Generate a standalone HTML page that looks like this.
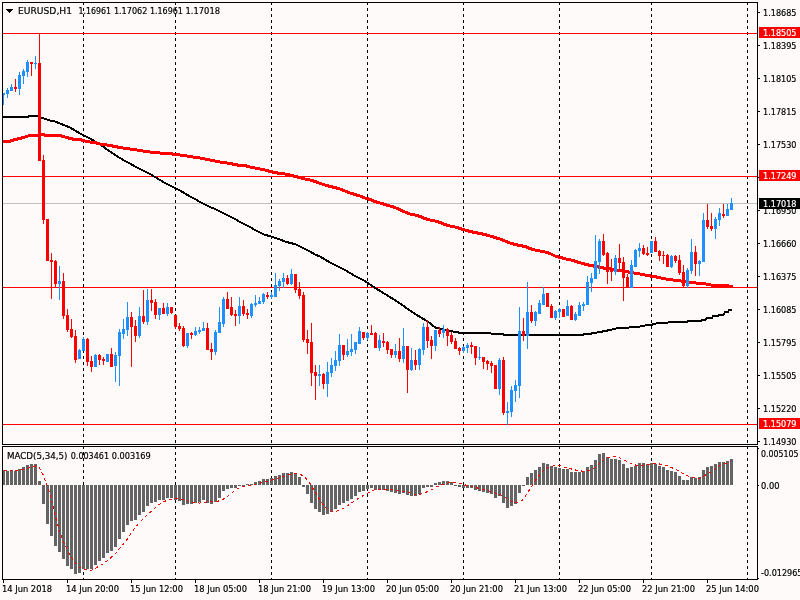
<!DOCTYPE html><html><head><meta charset="utf-8"><title>EURUSD,H1</title><style>html,body{margin:0;padding:0;background:#FFFAFA;width:800px;height:600px;overflow:hidden}svg{display:block}</style></head><body><svg width="800" height="600" viewBox="0 0 800 600" shape-rendering="crispEdges">
<rect x="0" y="0" width="800" height="600" fill="#FFFAFA"/>
<line x1="83.5" y1="2" x2="83.5" y2="444" stroke="#000" stroke-width="1" stroke-dasharray="3 3"/>
<line x1="83.5" y1="446" x2="83.5" y2="579" stroke="#000" stroke-width="1" stroke-dasharray="3 3"/>
<line x1="175.5" y1="2" x2="175.5" y2="444" stroke="#000" stroke-width="1" stroke-dasharray="3 3"/>
<line x1="175.5" y1="446" x2="175.5" y2="579" stroke="#000" stroke-width="1" stroke-dasharray="3 3"/>
<line x1="271.5" y1="2" x2="271.5" y2="444" stroke="#000" stroke-width="1" stroke-dasharray="3 3"/>
<line x1="271.5" y1="446" x2="271.5" y2="579" stroke="#000" stroke-width="1" stroke-dasharray="3 3"/>
<line x1="367.5" y1="2" x2="367.5" y2="444" stroke="#000" stroke-width="1" stroke-dasharray="3 3"/>
<line x1="367.5" y1="446" x2="367.5" y2="579" stroke="#000" stroke-width="1" stroke-dasharray="3 3"/>
<line x1="463.5" y1="2" x2="463.5" y2="444" stroke="#000" stroke-width="1" stroke-dasharray="3 3"/>
<line x1="463.5" y1="446" x2="463.5" y2="579" stroke="#000" stroke-width="1" stroke-dasharray="3 3"/>
<line x1="559.5" y1="2" x2="559.5" y2="444" stroke="#000" stroke-width="1" stroke-dasharray="3 3"/>
<line x1="559.5" y1="446" x2="559.5" y2="579" stroke="#000" stroke-width="1" stroke-dasharray="3 3"/>
<line x1="651.5" y1="2" x2="651.5" y2="444" stroke="#000" stroke-width="1" stroke-dasharray="3 3"/>
<line x1="651.5" y1="446" x2="651.5" y2="579" stroke="#000" stroke-width="1" stroke-dasharray="3 3"/>
<line x1="747.5" y1="2" x2="747.5" y2="444" stroke="#000" stroke-width="1" stroke-dasharray="3 3"/>
<line x1="747.5" y1="446" x2="747.5" y2="579" stroke="#000" stroke-width="1" stroke-dasharray="3 3"/>
<rect x="3" y="33" width="754" height="1" fill="#FF0000"/>
<rect x="3" y="176" width="754" height="1" fill="#FF0000"/>
<rect x="3" y="287" width="754" height="1" fill="#FF0000"/>
<rect x="3" y="424" width="754" height="1" fill="#FF0000"/>
<rect x="3" y="203" width="754" height="1" fill="#C0C0C0"/>
<polyline points="2.0,117.0 28.0,117.0 29.0,116.0 38.0,116.0 41.0,117.5 45.0,119.0 50.0,120.5 55.0,121.5 60.0,123.5 65.0,125.5 70.0,127.5 75.0,130.5 80.0,133.5 85.0,136.0 90.0,138.5 95.0,141.5 100.0,144.5 105.0,148.0 110.0,151.5 115.0,155.0 120.0,158.0 125.0,161.0 130.0,163.5 135.0,166.5 140.0,169.0 145.0,171.5 150.0,174.0 155.0,177.0 160.0,180.0 165.0,183.0 170.0,185.5 175.0,188.0 180.0,190.5 185.0,193.5 190.0,196.5 195.0,199.0 200.0,202.0 205.0,204.5 210.0,207.0 215.0,209.0 220.0,211.5 225.0,214.0 230.0,216.5 235.0,219.0 240.0,222.0 245.0,224.5 250.0,227.0 255.0,230.0 260.0,232.5 265.0,235.0 270.0,236.0 275.0,238.0 280.0,239.5 285.0,241.5 290.0,243.0 295.0,244.0 300.0,246.5 305.0,249.0 310.0,251.5 315.0,254.5 320.0,256.5 325.0,259.5 330.0,262.5 335.0,265.0 340.0,267.5 345.0,270.0 350.0,273.0 355.0,276.0 360.0,278.5 365.0,281.0 370.0,284.5 380.0,291.0 390.0,297.0 400.0,303.5 410.0,310.5 420.0,317.0 427.0,321.0 436.0,328.0 440.0,328.7 445.0,330.0 450.0,331.0 455.0,331.8 460.0,332.8 470.0,333.0 490.0,333.0 492.0,334.0 503.0,334.0 504.0,335.0 583.0,335.0 584.0,334.0 591.0,334.0 592.0,333.0 596.0,333.0 597.0,332.5 600.0,332.0 605.0,331.0 610.0,330.0 616.0,328.5 625.0,328.0 632.0,327.2 640.0,326.5 645.0,325.5 651.0,325.0 656.0,323.5 665.0,323.0 670.0,322.2 687.0,322.0 688.0,321.0 701.0,321.0 702.0,319.5 706.0,319.5 707.0,318.0 712.0,318.0 713.0,316.0 718.0,316.0 719.0,314.5 724.0,314.5 725.0,312.0 728.0,312.0 729.0,310.0 732.0,310.0" fill="none" stroke="#000" stroke-width="2" stroke-linejoin="round"/>
<polyline points="2.0,141.5 9.0,141.5 15.0,139.5 20.0,138.5 25.0,137.0 30.0,135.5 38.0,135.5 40.0,134.5 44.0,134.5 45.0,135.5 60.0,135.5 65.0,137.0 70.0,138.5 75.0,139.5 80.0,139.5 85.0,141.0 90.0,142.0 95.0,142.5 100.0,144.0 110.0,145.5 120.0,147.5 130.0,149.0 140.0,150.5 150.0,152.0 160.0,153.0 170.0,153.5 175.0,154.5 180.0,155.0 190.0,156.5 200.0,158.0 210.0,160.0 220.0,162.0 230.0,163.5 240.0,165.5 245.0,165.5 250.0,167.0 255.0,168.0 260.0,169.0 265.0,170.0 270.0,171.5 275.0,172.5 280.0,173.5 285.0,174.0 290.0,175.0 295.0,176.5 300.0,177.5 305.0,179.0 310.0,180.0 315.0,181.5 320.0,183.3 325.0,185.0 330.0,186.5 335.0,187.5 340.0,189.0 345.0,191.0 350.0,193.0 355.0,194.5 360.0,196.0 365.0,198.0 370.0,199.5 375.0,201.5 380.0,203.0 385.0,204.5 390.0,206.0 395.0,207.5 400.0,209.8 405.0,212.0 410.0,214.0 415.0,215.0 420.0,216.5 425.0,218.5 430.0,220.0 435.0,221.0 440.0,222.5 445.0,224.5 450.0,226.0 455.0,227.0 460.0,228.5 465.0,230.0 470.0,231.5 475.0,232.5 480.0,233.5 485.0,234.5 490.0,236.0 495.0,237.5 500.0,239.0 505.0,241.0 510.0,243.0 515.0,244.5 520.0,245.5 525.0,246.5 530.0,248.5 535.0,250.0 540.0,251.0 545.0,252.0 550.0,253.5 556.0,256.5 561.0,257.5 566.0,259.0 571.0,260.0 576.0,261.5 581.0,263.0 586.0,264.5 591.0,265.5 596.0,266.5 601.0,267.5 606.0,268.5 611.0,269.0 616.0,270.0 621.0,270.5 626.0,271.5 631.0,272.5 636.0,273.3 643.0,274.5 647.5,275.5 653.5,276.5 659.2,277.5 663.2,278.5 669.2,279.5 677.0,280.5 681.0,281.0 686.0,282.0 691.0,282.5 696.0,283.0 701.0,283.5 706.0,284.0 711.0,285.0 716.0,285.5 726.0,285.5 731.0,286.3 733.0,286.5" fill="none" stroke="#FF0000" stroke-width="3" stroke-linejoin="round"/>
<rect x="3" y="93" width="1" height="12" fill="#1E90FF"/>
<rect x="2" y="93" width="3" height="2" fill="#1E90FF"/>
<rect x="7" y="88" width="1" height="10" fill="#1E90FF"/>
<rect x="6" y="90" width="3" height="4" fill="#1E90FF"/>
<rect x="11" y="84" width="1" height="7" fill="#1E90FF"/>
<rect x="10" y="87" width="3" height="4" fill="#1E90FF"/>
<rect x="15" y="79" width="1" height="13" fill="#FF0000"/>
<rect x="14" y="87" width="3" height="2" fill="#FF0000"/>
<rect x="19" y="72" width="1" height="23" fill="#1E90FF"/>
<rect x="18" y="75" width="3" height="14" fill="#1E90FF"/>
<rect x="23" y="69" width="1" height="15" fill="#1E90FF"/>
<rect x="22" y="71" width="3" height="5" fill="#1E90FF"/>
<rect x="27" y="60" width="1" height="17" fill="#1E90FF"/>
<rect x="26" y="62" width="3" height="10" fill="#1E90FF"/>
<rect x="31" y="62" width="1" height="14" fill="#FF0000"/>
<rect x="30" y="62" width="3" height="2" fill="#FF0000"/>
<rect x="35" y="56" width="1" height="13" fill="#1E90FF"/>
<rect x="34" y="63" width="3" height="1" fill="#1E90FF"/>
<rect x="39" y="33" width="1" height="128" fill="#FF0000"/>
<rect x="38" y="63" width="3" height="98" fill="#FF0000"/>
<rect x="43" y="155" width="1" height="69" fill="#FF0000"/>
<rect x="42" y="160" width="3" height="60" fill="#FF0000"/>
<rect x="47" y="219" width="1" height="42" fill="#FF0000"/>
<rect x="46" y="219" width="3" height="42" fill="#FF0000"/>
<rect x="51" y="253" width="1" height="46" fill="#FF0000"/>
<rect x="50" y="260" width="3" height="2" fill="#FF0000"/>
<rect x="55" y="260" width="1" height="28" fill="#FF0000"/>
<rect x="54" y="261" width="3" height="23" fill="#FF0000"/>
<rect x="59" y="266" width="1" height="34" fill="#1E90FF"/>
<rect x="58" y="281" width="3" height="3" fill="#1E90FF"/>
<rect x="63" y="273" width="1" height="46" fill="#FF0000"/>
<rect x="62" y="281" width="3" height="35" fill="#FF0000"/>
<rect x="67" y="309" width="1" height="23" fill="#FF0000"/>
<rect x="66" y="315" width="3" height="15" fill="#FF0000"/>
<rect x="71" y="319" width="1" height="19" fill="#FF0000"/>
<rect x="70" y="329" width="3" height="8" fill="#FF0000"/>
<rect x="75" y="330" width="1" height="33" fill="#FF0000"/>
<rect x="74" y="336" width="3" height="24" fill="#FF0000"/>
<rect x="79" y="349" width="1" height="10" fill="#1E90FF"/>
<rect x="78" y="350" width="3" height="9" fill="#1E90FF"/>
<rect x="83" y="337" width="1" height="14" fill="#1E90FF"/>
<rect x="82" y="339" width="3" height="12" fill="#1E90FF"/>
<rect x="87" y="338" width="1" height="28" fill="#FF0000"/>
<rect x="86" y="339" width="3" height="23" fill="#FF0000"/>
<rect x="91" y="356" width="1" height="16" fill="#FF0000"/>
<rect x="90" y="361" width="3" height="6" fill="#FF0000"/>
<rect x="95" y="354" width="1" height="13" fill="#1E90FF"/>
<rect x="94" y="355" width="3" height="12" fill="#1E90FF"/>
<rect x="99" y="354" width="1" height="11" fill="#FF0000"/>
<rect x="98" y="355" width="3" height="5" fill="#FF0000"/>
<rect x="103" y="357" width="1" height="8" fill="#FF0000"/>
<rect x="102" y="359" width="3" height="2" fill="#FF0000"/>
<rect x="107" y="354" width="1" height="8" fill="#1E90FF"/>
<rect x="106" y="354" width="3" height="8" fill="#1E90FF"/>
<rect x="111" y="348" width="1" height="19" fill="#FF0000"/>
<rect x="110" y="354" width="3" height="13" fill="#FF0000"/>
<rect x="115" y="352" width="1" height="30" fill="#1E90FF"/>
<rect x="114" y="355" width="3" height="11" fill="#1E90FF"/>
<rect x="119" y="329" width="1" height="57" fill="#1E90FF"/>
<rect x="118" y="332" width="3" height="24" fill="#1E90FF"/>
<rect x="123" y="319" width="1" height="20" fill="#1E90FF"/>
<rect x="122" y="329" width="3" height="5" fill="#1E90FF"/>
<rect x="127" y="302" width="1" height="34" fill="#1E90FF"/>
<rect x="126" y="317" width="3" height="13" fill="#1E90FF"/>
<rect x="131" y="312" width="1" height="55" fill="#FF0000"/>
<rect x="130" y="317" width="3" height="10" fill="#FF0000"/>
<rect x="135" y="320" width="1" height="22" fill="#FF0000"/>
<rect x="134" y="326" width="3" height="10" fill="#FF0000"/>
<rect x="139" y="307" width="1" height="31" fill="#1E90FF"/>
<rect x="138" y="316" width="3" height="20" fill="#1E90FF"/>
<rect x="143" y="290" width="1" height="34" fill="#FF0000"/>
<rect x="142" y="316" width="3" height="6" fill="#FF0000"/>
<rect x="147" y="289" width="1" height="36" fill="#1E90FF"/>
<rect x="146" y="300" width="3" height="22" fill="#1E90FF"/>
<rect x="151" y="289" width="1" height="22" fill="#FF0000"/>
<rect x="150" y="300" width="3" height="3" fill="#FF0000"/>
<rect x="155" y="299" width="1" height="20" fill="#FF0000"/>
<rect x="154" y="302" width="3" height="13" fill="#FF0000"/>
<rect x="159" y="308" width="1" height="12" fill="#1E90FF"/>
<rect x="158" y="308" width="3" height="7" fill="#1E90FF"/>
<rect x="163" y="303" width="1" height="11" fill="#FF0000"/>
<rect x="162" y="308" width="3" height="6" fill="#FF0000"/>
<rect x="167" y="303" width="1" height="13" fill="#1E90FF"/>
<rect x="166" y="307" width="3" height="7" fill="#1E90FF"/>
<rect x="171" y="307" width="1" height="7" fill="#FF0000"/>
<rect x="170" y="307" width="3" height="6" fill="#FF0000"/>
<rect x="175" y="315" width="1" height="14" fill="#FF0000"/>
<rect x="174" y="315" width="3" height="12" fill="#FF0000"/>
<rect x="179" y="323" width="1" height="8" fill="#FF0000"/>
<rect x="178" y="326" width="3" height="3" fill="#FF0000"/>
<rect x="183" y="326" width="1" height="21" fill="#FF0000"/>
<rect x="182" y="328" width="3" height="18" fill="#FF0000"/>
<rect x="187" y="333" width="1" height="15" fill="#1E90FF"/>
<rect x="186" y="333" width="3" height="13" fill="#1E90FF"/>
<rect x="191" y="332" width="1" height="7" fill="#FF0000"/>
<rect x="190" y="333" width="3" height="2" fill="#FF0000"/>
<rect x="195" y="327" width="1" height="9" fill="#1E90FF"/>
<rect x="194" y="331" width="3" height="4" fill="#1E90FF"/>
<rect x="199" y="327" width="1" height="7" fill="#1E90FF"/>
<rect x="198" y="330" width="3" height="2" fill="#1E90FF"/>
<rect x="203" y="322" width="1" height="9" fill="#1E90FF"/>
<rect x="202" y="328" width="3" height="3" fill="#1E90FF"/>
<rect x="207" y="323" width="1" height="27" fill="#FF0000"/>
<rect x="206" y="328" width="3" height="22" fill="#FF0000"/>
<rect x="211" y="343" width="1" height="17" fill="#FF0000"/>
<rect x="210" y="349" width="3" height="3" fill="#FF0000"/>
<rect x="215" y="330" width="1" height="25" fill="#1E90FF"/>
<rect x="214" y="332" width="3" height="20" fill="#1E90FF"/>
<rect x="219" y="307" width="1" height="26" fill="#1E90FF"/>
<rect x="218" y="322" width="3" height="11" fill="#1E90FF"/>
<rect x="223" y="297" width="1" height="30" fill="#1E90FF"/>
<rect x="222" y="299" width="3" height="25" fill="#1E90FF"/>
<rect x="227" y="292" width="1" height="17" fill="#FF0000"/>
<rect x="226" y="299" width="3" height="10" fill="#FF0000"/>
<rect x="231" y="297" width="1" height="19" fill="#FF0000"/>
<rect x="230" y="307" width="3" height="8" fill="#FF0000"/>
<rect x="235" y="310" width="1" height="16" fill="#FF0000"/>
<rect x="234" y="314" width="3" height="2" fill="#FF0000"/>
<rect x="239" y="297" width="1" height="27" fill="#1E90FF"/>
<rect x="238" y="306" width="3" height="10" fill="#1E90FF"/>
<rect x="243" y="300" width="1" height="16" fill="#FF0000"/>
<rect x="242" y="306" width="3" height="8" fill="#FF0000"/>
<rect x="247" y="309" width="1" height="10" fill="#FF0000"/>
<rect x="246" y="313" width="3" height="2" fill="#FF0000"/>
<rect x="251" y="303" width="1" height="15" fill="#1E90FF"/>
<rect x="250" y="304" width="3" height="12" fill="#1E90FF"/>
<rect x="255" y="295" width="1" height="12" fill="#1E90FF"/>
<rect x="254" y="303" width="3" height="2" fill="#1E90FF"/>
<rect x="259" y="297" width="1" height="7" fill="#1E90FF"/>
<rect x="258" y="301" width="3" height="3" fill="#1E90FF"/>
<rect x="263" y="293" width="1" height="11" fill="#1E90FF"/>
<rect x="262" y="294" width="3" height="8" fill="#1E90FF"/>
<rect x="267" y="292" width="1" height="7" fill="#FF0000"/>
<rect x="266" y="295" width="3" height="2" fill="#FF0000"/>
<rect x="271" y="292" width="1" height="7" fill="#1E90FF"/>
<rect x="270" y="295" width="3" height="2" fill="#1E90FF"/>
<rect x="275" y="273" width="1" height="24" fill="#1E90FF"/>
<rect x="274" y="285" width="3" height="12" fill="#1E90FF"/>
<rect x="279" y="279" width="1" height="12" fill="#1E90FF"/>
<rect x="278" y="281" width="3" height="5" fill="#1E90FF"/>
<rect x="283" y="273" width="1" height="15" fill="#1E90FF"/>
<rect x="282" y="278" width="3" height="4" fill="#1E90FF"/>
<rect x="287" y="275" width="1" height="10" fill="#FF0000"/>
<rect x="286" y="278" width="3" height="6" fill="#FF0000"/>
<rect x="291" y="269" width="1" height="16" fill="#1E90FF"/>
<rect x="290" y="274" width="3" height="10" fill="#1E90FF"/>
<rect x="295" y="274" width="1" height="19" fill="#FF0000"/>
<rect x="294" y="274" width="3" height="16" fill="#FF0000"/>
<rect x="299" y="282" width="1" height="17" fill="#FF0000"/>
<rect x="298" y="289" width="3" height="7" fill="#FF0000"/>
<rect x="303" y="292" width="1" height="50" fill="#FF0000"/>
<rect x="302" y="295" width="3" height="45" fill="#FF0000"/>
<rect x="307" y="330" width="1" height="24" fill="#FF0000"/>
<rect x="306" y="339" width="3" height="4" fill="#FF0000"/>
<rect x="311" y="323" width="1" height="63" fill="#FF0000"/>
<rect x="310" y="342" width="3" height="31" fill="#FF0000"/>
<rect x="315" y="365" width="1" height="35" fill="#FF0000"/>
<rect x="314" y="372" width="3" height="4" fill="#FF0000"/>
<rect x="319" y="365" width="1" height="21" fill="#1E90FF"/>
<rect x="318" y="374" width="3" height="2" fill="#1E90FF"/>
<rect x="323" y="373" width="1" height="16" fill="#FF0000"/>
<rect x="322" y="374" width="3" height="10" fill="#FF0000"/>
<rect x="327" y="362" width="1" height="35" fill="#1E90FF"/>
<rect x="326" y="372" width="3" height="12" fill="#1E90FF"/>
<rect x="331" y="358" width="1" height="19" fill="#1E90FF"/>
<rect x="330" y="365" width="3" height="8" fill="#1E90FF"/>
<rect x="335" y="351" width="1" height="20" fill="#1E90FF"/>
<rect x="334" y="360" width="3" height="6" fill="#1E90FF"/>
<rect x="339" y="334" width="1" height="32" fill="#1E90FF"/>
<rect x="338" y="345" width="3" height="16" fill="#1E90FF"/>
<rect x="343" y="345" width="1" height="15" fill="#FF0000"/>
<rect x="342" y="345" width="3" height="10" fill="#FF0000"/>
<rect x="347" y="339" width="1" height="18" fill="#1E90FF"/>
<rect x="346" y="351" width="3" height="4" fill="#1E90FF"/>
<rect x="351" y="334" width="1" height="22" fill="#1E90FF"/>
<rect x="350" y="349" width="3" height="3" fill="#1E90FF"/>
<rect x="355" y="342" width="1" height="12" fill="#1E90FF"/>
<rect x="354" y="342" width="3" height="8" fill="#1E90FF"/>
<rect x="359" y="327" width="1" height="17" fill="#1E90FF"/>
<rect x="358" y="331" width="3" height="13" fill="#1E90FF"/>
<rect x="363" y="332" width="1" height="8" fill="#FF0000"/>
<rect x="362" y="332" width="3" height="6" fill="#FF0000"/>
<rect x="367" y="332" width="1" height="8" fill="#1E90FF"/>
<rect x="366" y="333" width="3" height="5" fill="#1E90FF"/>
<rect x="371" y="325" width="1" height="10" fill="#FF0000"/>
<rect x="370" y="333" width="3" height="2" fill="#FF0000"/>
<rect x="375" y="332" width="1" height="16" fill="#FF0000"/>
<rect x="374" y="333" width="3" height="15" fill="#FF0000"/>
<rect x="379" y="335" width="1" height="16" fill="#1E90FF"/>
<rect x="378" y="340" width="3" height="8" fill="#1E90FF"/>
<rect x="383" y="333" width="1" height="14" fill="#FF0000"/>
<rect x="382" y="341" width="3" height="2" fill="#FF0000"/>
<rect x="387" y="341" width="1" height="13" fill="#FF0000"/>
<rect x="386" y="342" width="3" height="8" fill="#FF0000"/>
<rect x="391" y="349" width="1" height="9" fill="#FF0000"/>
<rect x="390" y="349" width="3" height="6" fill="#FF0000"/>
<rect x="395" y="344" width="1" height="14" fill="#1E90FF"/>
<rect x="394" y="351" width="3" height="4" fill="#1E90FF"/>
<rect x="399" y="338" width="1" height="24" fill="#FF0000"/>
<rect x="398" y="351" width="3" height="8" fill="#FF0000"/>
<rect x="403" y="328" width="1" height="35" fill="#1E90FF"/>
<rect x="402" y="346" width="3" height="13" fill="#1E90FF"/>
<rect x="407" y="346" width="1" height="47" fill="#FF0000"/>
<rect x="406" y="346" width="3" height="24" fill="#FF0000"/>
<rect x="411" y="348" width="1" height="23" fill="#1E90FF"/>
<rect x="410" y="360" width="3" height="10" fill="#1E90FF"/>
<rect x="415" y="350" width="1" height="20" fill="#FF0000"/>
<rect x="414" y="360" width="3" height="5" fill="#FF0000"/>
<rect x="419" y="348" width="1" height="22" fill="#1E90FF"/>
<rect x="418" y="349" width="3" height="16" fill="#1E90FF"/>
<rect x="423" y="323" width="1" height="32" fill="#1E90FF"/>
<rect x="422" y="327" width="3" height="23" fill="#1E90FF"/>
<rect x="427" y="320" width="1" height="28" fill="#FF0000"/>
<rect x="426" y="327" width="3" height="14" fill="#FF0000"/>
<rect x="431" y="336" width="1" height="23" fill="#FF0000"/>
<rect x="430" y="340" width="3" height="6" fill="#FF0000"/>
<rect x="435" y="330" width="1" height="21" fill="#1E90FF"/>
<rect x="434" y="330" width="3" height="16" fill="#1E90FF"/>
<rect x="439" y="327" width="1" height="10" fill="#FF0000"/>
<rect x="438" y="330" width="3" height="4" fill="#FF0000"/>
<rect x="443" y="325" width="1" height="13" fill="#1E90FF"/>
<rect x="442" y="329" width="3" height="4" fill="#1E90FF"/>
<rect x="447" y="328" width="1" height="18" fill="#FF0000"/>
<rect x="446" y="329" width="3" height="7" fill="#FF0000"/>
<rect x="451" y="332" width="1" height="12" fill="#FF0000"/>
<rect x="450" y="335" width="3" height="7" fill="#FF0000"/>
<rect x="455" y="338" width="1" height="11" fill="#FF0000"/>
<rect x="454" y="341" width="3" height="8" fill="#FF0000"/>
<rect x="459" y="347" width="1" height="8" fill="#FF0000"/>
<rect x="458" y="348" width="3" height="3" fill="#FF0000"/>
<rect x="463" y="346" width="1" height="7" fill="#1E90FF"/>
<rect x="462" y="347" width="3" height="4" fill="#1E90FF"/>
<rect x="467" y="343" width="1" height="10" fill="#1E90FF"/>
<rect x="466" y="345" width="3" height="3" fill="#1E90FF"/>
<rect x="471" y="342" width="1" height="12" fill="#FF0000"/>
<rect x="470" y="345" width="3" height="2" fill="#FF0000"/>
<rect x="475" y="346" width="1" height="19" fill="#FF0000"/>
<rect x="474" y="346" width="3" height="12" fill="#FF0000"/>
<rect x="479" y="347" width="1" height="13" fill="#1E90FF"/>
<rect x="478" y="357" width="3" height="1" fill="#1E90FF"/>
<rect x="483" y="357" width="1" height="12" fill="#FF0000"/>
<rect x="482" y="357" width="3" height="5" fill="#FF0000"/>
<rect x="487" y="360" width="1" height="10" fill="#FF0000"/>
<rect x="486" y="361" width="3" height="3" fill="#FF0000"/>
<rect x="491" y="361" width="1" height="12" fill="#FF0000"/>
<rect x="490" y="363" width="3" height="3" fill="#FF0000"/>
<rect x="495" y="365" width="1" height="24" fill="#FF0000"/>
<rect x="494" y="365" width="3" height="24" fill="#FF0000"/>
<rect x="499" y="358" width="1" height="37" fill="#1E90FF"/>
<rect x="498" y="360" width="3" height="29" fill="#1E90FF"/>
<rect x="503" y="357" width="1" height="58" fill="#FF0000"/>
<rect x="502" y="360" width="3" height="53" fill="#FF0000"/>
<rect x="507" y="402" width="1" height="23" fill="#1E90FF"/>
<rect x="506" y="411" width="3" height="2" fill="#1E90FF"/>
<rect x="511" y="386" width="1" height="31" fill="#1E90FF"/>
<rect x="510" y="390" width="3" height="22" fill="#1E90FF"/>
<rect x="515" y="380" width="1" height="22" fill="#1E90FF"/>
<rect x="514" y="385" width="3" height="6" fill="#1E90FF"/>
<rect x="519" y="307" width="1" height="91" fill="#1E90FF"/>
<rect x="518" y="331" width="3" height="55" fill="#1E90FF"/>
<rect x="523" y="318" width="1" height="23" fill="#FF0000"/>
<rect x="522" y="331" width="3" height="5" fill="#FF0000"/>
<rect x="527" y="282" width="1" height="67" fill="#1E90FF"/>
<rect x="526" y="312" width="3" height="24" fill="#1E90FF"/>
<rect x="531" y="305" width="1" height="18" fill="#FF0000"/>
<rect x="530" y="312" width="3" height="9" fill="#FF0000"/>
<rect x="535" y="311" width="1" height="15" fill="#1E90FF"/>
<rect x="534" y="312" width="3" height="9" fill="#1E90FF"/>
<rect x="539" y="300" width="1" height="14" fill="#1E90FF"/>
<rect x="538" y="303" width="3" height="11" fill="#1E90FF"/>
<rect x="543" y="287" width="1" height="18" fill="#1E90FF"/>
<rect x="542" y="294" width="3" height="11" fill="#1E90FF"/>
<rect x="547" y="293" width="1" height="14" fill="#FF0000"/>
<rect x="546" y="293" width="3" height="14" fill="#FF0000"/>
<rect x="551" y="304" width="1" height="14" fill="#FF0000"/>
<rect x="550" y="306" width="3" height="12" fill="#FF0000"/>
<rect x="555" y="310" width="1" height="10" fill="#1E90FF"/>
<rect x="554" y="311" width="3" height="7" fill="#1E90FF"/>
<rect x="559" y="308" width="1" height="10" fill="#1E90FF"/>
<rect x="558" y="309" width="3" height="3" fill="#1E90FF"/>
<rect x="563" y="309" width="1" height="8" fill="#FF0000"/>
<rect x="562" y="309" width="3" height="8" fill="#FF0000"/>
<rect x="567" y="300" width="1" height="16" fill="#1E90FF"/>
<rect x="566" y="306" width="3" height="10" fill="#1E90FF"/>
<rect x="571" y="305" width="1" height="15" fill="#FF0000"/>
<rect x="570" y="306" width="3" height="14" fill="#FF0000"/>
<rect x="575" y="312" width="1" height="9" fill="#1E90FF"/>
<rect x="574" y="314" width="3" height="6" fill="#1E90FF"/>
<rect x="579" y="302" width="1" height="14" fill="#1E90FF"/>
<rect x="578" y="305" width="3" height="11" fill="#1E90FF"/>
<rect x="583" y="302" width="1" height="9" fill="#1E90FF"/>
<rect x="582" y="304" width="3" height="2" fill="#1E90FF"/>
<rect x="587" y="276" width="1" height="29" fill="#1E90FF"/>
<rect x="586" y="282" width="3" height="23" fill="#1E90FF"/>
<rect x="591" y="273" width="1" height="19" fill="#1E90FF"/>
<rect x="590" y="278" width="3" height="5" fill="#1E90FF"/>
<rect x="595" y="235" width="1" height="44" fill="#1E90FF"/>
<rect x="594" y="261" width="3" height="18" fill="#1E90FF"/>
<rect x="599" y="239" width="1" height="35" fill="#1E90FF"/>
<rect x="598" y="241" width="3" height="21" fill="#1E90FF"/>
<rect x="603" y="234" width="1" height="22" fill="#FF0000"/>
<rect x="602" y="241" width="3" height="14" fill="#FF0000"/>
<rect x="607" y="252" width="1" height="32" fill="#FF0000"/>
<rect x="606" y="253" width="3" height="19" fill="#FF0000"/>
<rect x="611" y="259" width="1" height="22" fill="#FF0000"/>
<rect x="610" y="270" width="3" height="2" fill="#FF0000"/>
<rect x="615" y="255" width="1" height="20" fill="#1E90FF"/>
<rect x="614" y="258" width="3" height="14" fill="#1E90FF"/>
<rect x="619" y="244" width="1" height="25" fill="#FF0000"/>
<rect x="618" y="258" width="3" height="5" fill="#FF0000"/>
<rect x="623" y="257" width="1" height="44" fill="#FF0000"/>
<rect x="622" y="262" width="3" height="16" fill="#FF0000"/>
<rect x="627" y="274" width="1" height="14" fill="#FF0000"/>
<rect x="626" y="277" width="3" height="11" fill="#FF0000"/>
<rect x="631" y="260" width="1" height="28" fill="#1E90FF"/>
<rect x="630" y="265" width="3" height="23" fill="#1E90FF"/>
<rect x="635" y="249" width="1" height="18" fill="#1E90FF"/>
<rect x="634" y="250" width="3" height="17" fill="#1E90FF"/>
<rect x="639" y="243" width="1" height="14" fill="#1E90FF"/>
<rect x="638" y="248" width="3" height="3" fill="#1E90FF"/>
<rect x="643" y="245" width="1" height="10" fill="#FF0000"/>
<rect x="642" y="248" width="3" height="6" fill="#FF0000"/>
<rect x="647" y="247" width="1" height="9" fill="#FF0000"/>
<rect x="646" y="253" width="3" height="2" fill="#FF0000"/>
<rect x="651" y="241" width="1" height="12" fill="#1E90FF"/>
<rect x="650" y="241" width="3" height="12" fill="#1E90FF"/>
<rect x="655" y="237" width="1" height="15" fill="#FF0000"/>
<rect x="654" y="241" width="3" height="11" fill="#FF0000"/>
<rect x="659" y="250" width="1" height="11" fill="#FF0000"/>
<rect x="658" y="251" width="3" height="5" fill="#FF0000"/>
<rect x="663" y="251" width="1" height="13" fill="#FF0000"/>
<rect x="662" y="255" width="3" height="1" fill="#FF0000"/>
<rect x="667" y="254" width="1" height="13" fill="#FF0000"/>
<rect x="666" y="255" width="3" height="12" fill="#FF0000"/>
<rect x="671" y="255" width="1" height="13" fill="#1E90FF"/>
<rect x="670" y="256" width="3" height="11" fill="#1E90FF"/>
<rect x="675" y="255" width="1" height="8" fill="#FF0000"/>
<rect x="674" y="256" width="3" height="5" fill="#FF0000"/>
<rect x="679" y="255" width="1" height="20" fill="#FF0000"/>
<rect x="678" y="260" width="3" height="13" fill="#FF0000"/>
<rect x="683" y="265" width="1" height="22" fill="#FF0000"/>
<rect x="682" y="272" width="3" height="14" fill="#FF0000"/>
<rect x="687" y="268" width="1" height="20" fill="#1E90FF"/>
<rect x="686" y="270" width="3" height="16" fill="#1E90FF"/>
<rect x="691" y="239" width="1" height="35" fill="#1E90FF"/>
<rect x="690" y="252" width="3" height="19" fill="#1E90FF"/>
<rect x="695" y="246" width="1" height="30" fill="#FF0000"/>
<rect x="694" y="252" width="3" height="12" fill="#FF0000"/>
<rect x="699" y="260" width="1" height="16" fill="#1E90FF"/>
<rect x="698" y="261" width="3" height="3" fill="#1E90FF"/>
<rect x="703" y="213" width="1" height="49" fill="#1E90FF"/>
<rect x="702" y="220" width="3" height="42" fill="#1E90FF"/>
<rect x="707" y="204" width="1" height="25" fill="#FF0000"/>
<rect x="706" y="220" width="3" height="7" fill="#FF0000"/>
<rect x="711" y="213" width="1" height="18" fill="#FF0000"/>
<rect x="710" y="226" width="3" height="3" fill="#FF0000"/>
<rect x="715" y="217" width="1" height="22" fill="#1E90FF"/>
<rect x="714" y="219" width="3" height="10" fill="#1E90FF"/>
<rect x="719" y="208" width="1" height="18" fill="#1E90FF"/>
<rect x="718" y="213" width="3" height="7" fill="#1E90FF"/>
<rect x="723" y="204" width="1" height="14" fill="#FF0000"/>
<rect x="722" y="214" width="3" height="2" fill="#FF0000"/>
<rect x="727" y="204" width="1" height="12" fill="#1E90FF"/>
<rect x="726" y="209" width="3" height="7" fill="#1E90FF"/>
<rect x="731" y="198" width="1" height="12" fill="#1E90FF"/>
<rect x="730" y="203" width="3" height="7" fill="#1E90FF"/>
<rect x="2" y="470" width="3" height="15" fill="#646464"/>
<rect x="6" y="471" width="3" height="14" fill="#646464"/>
<rect x="10" y="470" width="3" height="15" fill="#646464"/>
<rect x="14" y="471" width="3" height="14" fill="#646464"/>
<rect x="18" y="469" width="3" height="16" fill="#646464"/>
<rect x="22" y="467" width="3" height="18" fill="#646464"/>
<rect x="26" y="465" width="3" height="20" fill="#646464"/>
<rect x="30" y="464" width="3" height="21" fill="#646464"/>
<rect x="34" y="464" width="3" height="21" fill="#646464"/>
<rect x="38" y="481" width="3" height="4" fill="#646464"/>
<rect x="42" y="485" width="3" height="19" fill="#646464"/>
<rect x="46" y="485" width="3" height="39" fill="#646464"/>
<rect x="50" y="485" width="3" height="51" fill="#646464"/>
<rect x="54" y="485" width="3" height="61" fill="#646464"/>
<rect x="58" y="485" width="3" height="67" fill="#646464"/>
<rect x="62" y="485" width="3" height="74" fill="#646464"/>
<rect x="66" y="485" width="3" height="81" fill="#646464"/>
<rect x="70" y="485" width="3" height="84" fill="#646464"/>
<rect x="74" y="485" width="3" height="89" fill="#646464"/>
<rect x="78" y="485" width="3" height="88" fill="#646464"/>
<rect x="82" y="485" width="3" height="84" fill="#646464"/>
<rect x="86" y="485" width="3" height="84" fill="#646464"/>
<rect x="90" y="485" width="3" height="84" fill="#646464"/>
<rect x="94" y="485" width="3" height="80" fill="#646464"/>
<rect x="98" y="485" width="3" height="76" fill="#646464"/>
<rect x="102" y="485" width="3" height="73" fill="#646464"/>
<rect x="106" y="485" width="3" height="68" fill="#646464"/>
<rect x="110" y="485" width="3" height="66" fill="#646464"/>
<rect x="114" y="485" width="3" height="62" fill="#646464"/>
<rect x="118" y="485" width="3" height="54" fill="#646464"/>
<rect x="122" y="485" width="3" height="47" fill="#646464"/>
<rect x="126" y="485" width="3" height="40" fill="#646464"/>
<rect x="130" y="485" width="3" height="36" fill="#646464"/>
<rect x="134" y="485" width="3" height="35" fill="#646464"/>
<rect x="138" y="485" width="3" height="30" fill="#646464"/>
<rect x="142" y="485" width="3" height="27" fill="#646464"/>
<rect x="146" y="485" width="3" height="21" fill="#646464"/>
<rect x="150" y="485" width="3" height="18" fill="#646464"/>
<rect x="154" y="485" width="3" height="17" fill="#646464"/>
<rect x="158" y="485" width="3" height="15" fill="#646464"/>
<rect x="162" y="485" width="3" height="15" fill="#646464"/>
<rect x="166" y="485" width="3" height="13" fill="#646464"/>
<rect x="170" y="485" width="3" height="13" fill="#646464"/>
<rect x="174" y="485" width="3" height="15" fill="#646464"/>
<rect x="178" y="485" width="3" height="16" fill="#646464"/>
<rect x="182" y="485" width="3" height="20" fill="#646464"/>
<rect x="186" y="485" width="3" height="19" fill="#646464"/>
<rect x="190" y="485" width="3" height="19" fill="#646464"/>
<rect x="194" y="485" width="3" height="18" fill="#646464"/>
<rect x="198" y="485" width="3" height="17" fill="#646464"/>
<rect x="202" y="485" width="3" height="15" fill="#646464"/>
<rect x="206" y="485" width="3" height="18" fill="#646464"/>
<rect x="210" y="485" width="3" height="19" fill="#646464"/>
<rect x="214" y="485" width="3" height="17" fill="#646464"/>
<rect x="218" y="485" width="3" height="13" fill="#646464"/>
<rect x="222" y="485" width="3" height="6" fill="#646464"/>
<rect x="226" y="485" width="3" height="4" fill="#646464"/>
<rect x="230" y="485" width="3" height="3" fill="#646464"/>
<rect x="234" y="485" width="3" height="3" fill="#646464"/>
<rect x="238" y="485" width="3" height="1" fill="#646464"/>
<rect x="242" y="485" width="3" height="1" fill="#646464"/>
<rect x="246" y="484" width="3" height="1" fill="#646464"/>
<rect x="250" y="484" width="3" height="1" fill="#646464"/>
<rect x="254" y="482" width="3" height="3" fill="#646464"/>
<rect x="258" y="481" width="3" height="4" fill="#646464"/>
<rect x="262" y="479" width="3" height="6" fill="#646464"/>
<rect x="266" y="479" width="3" height="6" fill="#646464"/>
<rect x="270" y="478" width="3" height="7" fill="#646464"/>
<rect x="274" y="476" width="3" height="9" fill="#646464"/>
<rect x="278" y="475" width="3" height="10" fill="#646464"/>
<rect x="282" y="473" width="3" height="12" fill="#646464"/>
<rect x="286" y="473" width="3" height="12" fill="#646464"/>
<rect x="290" y="472" width="3" height="13" fill="#646464"/>
<rect x="294" y="474" width="3" height="11" fill="#646464"/>
<rect x="298" y="477" width="3" height="8" fill="#646464"/>
<rect x="302" y="485" width="3" height="2" fill="#646464"/>
<rect x="306" y="485" width="3" height="9" fill="#646464"/>
<rect x="310" y="485" width="3" height="18" fill="#646464"/>
<rect x="314" y="485" width="3" height="24" fill="#646464"/>
<rect x="318" y="485" width="3" height="27" fill="#646464"/>
<rect x="322" y="485" width="3" height="30" fill="#646464"/>
<rect x="326" y="485" width="3" height="29" fill="#646464"/>
<rect x="330" y="485" width="3" height="27" fill="#646464"/>
<rect x="334" y="485" width="3" height="24" fill="#646464"/>
<rect x="338" y="485" width="3" height="20" fill="#646464"/>
<rect x="342" y="485" width="3" height="18" fill="#646464"/>
<rect x="346" y="485" width="3" height="16" fill="#646464"/>
<rect x="350" y="485" width="3" height="14" fill="#646464"/>
<rect x="354" y="485" width="3" height="11" fill="#646464"/>
<rect x="358" y="485" width="3" height="7" fill="#646464"/>
<rect x="362" y="485" width="3" height="6" fill="#646464"/>
<rect x="366" y="485" width="3" height="4" fill="#646464"/>
<rect x="370" y="485" width="3" height="3" fill="#646464"/>
<rect x="374" y="485" width="3" height="5" fill="#646464"/>
<rect x="378" y="485" width="3" height="5" fill="#646464"/>
<rect x="382" y="485" width="3" height="5" fill="#646464"/>
<rect x="386" y="485" width="3" height="6" fill="#646464"/>
<rect x="390" y="485" width="3" height="7" fill="#646464"/>
<rect x="394" y="485" width="3" height="8" fill="#646464"/>
<rect x="398" y="485" width="3" height="9" fill="#646464"/>
<rect x="402" y="485" width="3" height="8" fill="#646464"/>
<rect x="406" y="485" width="3" height="10" fill="#646464"/>
<rect x="410" y="485" width="3" height="11" fill="#646464"/>
<rect x="414" y="485" width="3" height="11" fill="#646464"/>
<rect x="418" y="485" width="3" height="9" fill="#646464"/>
<rect x="422" y="485" width="3" height="3" fill="#646464"/>
<rect x="426" y="485" width="3" height="2" fill="#646464"/>
<rect x="430" y="485" width="3" height="2" fill="#646464"/>
<rect x="434" y="483" width="3" height="2" fill="#646464"/>
<rect x="438" y="482" width="3" height="3" fill="#646464"/>
<rect x="442" y="481" width="3" height="4" fill="#646464"/>
<rect x="446" y="481" width="3" height="4" fill="#646464"/>
<rect x="450" y="482" width="3" height="3" fill="#646464"/>
<rect x="454" y="485" width="3" height="1" fill="#646464"/>
<rect x="458" y="485" width="3" height="2" fill="#646464"/>
<rect x="462" y="485" width="3" height="3" fill="#646464"/>
<rect x="466" y="485" width="3" height="3" fill="#646464"/>
<rect x="470" y="485" width="3" height="3" fill="#646464"/>
<rect x="474" y="485" width="3" height="5" fill="#646464"/>
<rect x="478" y="485" width="3" height="6" fill="#646464"/>
<rect x="482" y="485" width="3" height="7" fill="#646464"/>
<rect x="486" y="485" width="3" height="8" fill="#646464"/>
<rect x="490" y="485" width="3" height="9" fill="#646464"/>
<rect x="494" y="485" width="3" height="13" fill="#646464"/>
<rect x="498" y="485" width="3" height="11" fill="#646464"/>
<rect x="502" y="485" width="3" height="18" fill="#646464"/>
<rect x="506" y="485" width="3" height="23" fill="#646464"/>
<rect x="510" y="485" width="3" height="21" fill="#646464"/>
<rect x="514" y="485" width="3" height="19" fill="#646464"/>
<rect x="518" y="485" width="3" height="8" fill="#646464"/>
<rect x="522" y="485" width="3" height="1" fill="#646464"/>
<rect x="526" y="477" width="3" height="8" fill="#646464"/>
<rect x="530" y="473" width="3" height="12" fill="#646464"/>
<rect x="534" y="470" width="3" height="15" fill="#646464"/>
<rect x="538" y="467" width="3" height="18" fill="#646464"/>
<rect x="542" y="463" width="3" height="22" fill="#646464"/>
<rect x="546" y="464" width="3" height="21" fill="#646464"/>
<rect x="550" y="466" width="3" height="19" fill="#646464"/>
<rect x="554" y="467" width="3" height="18" fill="#646464"/>
<rect x="558" y="468" width="3" height="17" fill="#646464"/>
<rect x="562" y="469" width="3" height="16" fill="#646464"/>
<rect x="566" y="469" width="3" height="16" fill="#646464"/>
<rect x="570" y="472" width="3" height="13" fill="#646464"/>
<rect x="574" y="472" width="3" height="13" fill="#646464"/>
<rect x="578" y="472" width="3" height="13" fill="#646464"/>
<rect x="582" y="471" width="3" height="14" fill="#646464"/>
<rect x="586" y="467" width="3" height="18" fill="#646464"/>
<rect x="590" y="465" width="3" height="20" fill="#646464"/>
<rect x="594" y="460" width="3" height="25" fill="#646464"/>
<rect x="598" y="454" width="3" height="31" fill="#646464"/>
<rect x="602" y="453" width="3" height="32" fill="#646464"/>
<rect x="606" y="457" width="3" height="28" fill="#646464"/>
<rect x="610" y="459" width="3" height="26" fill="#646464"/>
<rect x="614" y="459" width="3" height="26" fill="#646464"/>
<rect x="618" y="460" width="3" height="25" fill="#646464"/>
<rect x="622" y="464" width="3" height="21" fill="#646464"/>
<rect x="626" y="468" width="3" height="17" fill="#646464"/>
<rect x="630" y="467" width="3" height="18" fill="#646464"/>
<rect x="634" y="466" width="3" height="19" fill="#646464"/>
<rect x="638" y="463" width="3" height="22" fill="#646464"/>
<rect x="642" y="463" width="3" height="22" fill="#646464"/>
<rect x="646" y="464" width="3" height="21" fill="#646464"/>
<rect x="650" y="463" width="3" height="22" fill="#646464"/>
<rect x="654" y="464" width="3" height="21" fill="#646464"/>
<rect x="658" y="466" width="3" height="19" fill="#646464"/>
<rect x="662" y="467" width="3" height="18" fill="#646464"/>
<rect x="666" y="470" width="3" height="15" fill="#646464"/>
<rect x="670" y="471" width="3" height="14" fill="#646464"/>
<rect x="674" y="472" width="3" height="13" fill="#646464"/>
<rect x="678" y="476" width="3" height="9" fill="#646464"/>
<rect x="682" y="480" width="3" height="5" fill="#646464"/>
<rect x="686" y="480" width="3" height="5" fill="#646464"/>
<rect x="690" y="477" width="3" height="8" fill="#646464"/>
<rect x="694" y="478" width="3" height="7" fill="#646464"/>
<rect x="698" y="477" width="3" height="8" fill="#646464"/>
<rect x="702" y="470" width="3" height="15" fill="#646464"/>
<rect x="706" y="467" width="3" height="18" fill="#646464"/>
<rect x="710" y="466" width="3" height="19" fill="#646464"/>
<rect x="714" y="464" width="3" height="21" fill="#646464"/>
<rect x="718" y="462" width="3" height="23" fill="#646464"/>
<rect x="722" y="462" width="3" height="23" fill="#646464"/>
<rect x="726" y="461" width="3" height="24" fill="#646464"/>
<rect x="730" y="459" width="3" height="26" fill="#646464"/>
<polyline points="3.5,470.5 7.5,470.5 11.5,470.5 15.5,470.6 19.5,470.2 23.5,469.4 27.5,468.1 31.5,467.1 35.5,466.0 39.5,467.9 43.5,475.5 47.5,486.4 51.5,499.6 55.5,516.8 59.5,530.5 63.5,541.9 67.5,550.5 71.5,557.2 75.5,563.0 79.5,567.3 83.5,569.2 87.5,570.2 91.5,570.2 95.5,568.2 99.5,565.8 103.5,563.7 107.5,560.6 111.5,557.0 115.5,553.3 119.5,548.7 123.5,544.0 127.5,538.8 131.5,532.6 135.5,527.2 139.5,522.5 143.5,518.5 147.5,514.5 151.5,511.0 155.5,507.5 159.5,504.3 163.5,501.8 167.5,500.2 171.5,499.2 175.5,498.7 179.5,498.7 183.5,499.5 187.5,500.7 191.5,502.3 195.5,502.7 199.5,503.1 203.5,502.4 207.5,501.8 211.5,501.7 215.5,501.6 219.5,500.8 223.5,499.1 227.5,496.4 231.5,493.3 235.5,490.2 239.5,487.6 243.5,486.6 247.5,485.9 251.5,485.4 255.5,484.1 259.5,483.3 263.5,482.1 267.5,481.2 271.5,480.2 275.5,479.1 279.5,477.7 283.5,476.4 287.5,475.2 291.5,474.0 295.5,473.6 299.5,473.9 303.5,476.2 307.5,479.8 311.5,485.9 315.5,492.8 319.5,499.4 323.5,505.1 327.5,509.4 331.5,511.3 335.5,511.5 339.5,510.3 343.5,508.1 347.5,505.6 351.5,503.1 355.5,500.4 359.5,497.7 363.5,495.4 367.5,493.3 371.5,490.9 375.5,489.5 379.5,489.3 383.5,489.0 387.5,489.2 391.5,489.7 395.5,490.2 399.5,491.0 403.5,491.4 407.5,492.3 411.5,493.4 415.5,494.5 419.5,494.4 423.5,493.2 427.5,491.6 431.5,489.8 435.5,487.4 439.5,485.6 443.5,484.2 447.5,483.1 451.5,482.5 455.5,482.7 459.5,483.3 463.5,484.4 467.5,485.6 471.5,486.7 475.5,487.5 479.5,488.5 483.5,489.4 487.5,490.6 491.5,491.5 495.5,493.1 499.5,494.5 503.5,496.3 507.5,499.1 511.5,501.2 515.5,502.8 519.5,502.4 523.5,499.1 527.5,493.0 531.5,486.6 535.5,480.0 539.5,475.0 543.5,470.3 547.5,467.7 551.5,466.4 555.5,465.5 559.5,465.6 563.5,466.8 567.5,467.8 571.5,469.0 575.5,470.0 579.5,470.8 583.5,471.2 587.5,470.8 591.5,469.4 595.5,467.0 599.5,463.4 603.5,459.8 607.5,457.8 611.5,456.6 615.5,456.4 619.5,457.6 623.5,459.8 627.5,462.0 631.5,463.6 635.5,465.0 639.5,465.6 643.5,465.4 647.5,464.6 651.5,463.8 655.5,463.4 659.5,464.0 663.5,464.8 667.5,466.0 671.5,467.6 675.5,469.2 679.5,471.2 683.5,473.8 687.5,475.8 691.5,477.0 695.5,478.2 699.5,478.4 703.5,476.4 707.5,473.8 711.5,471.6 715.5,468.8 719.5,465.8 723.5,464.2 727.5,463.0 731.5,461.6" fill="none" stroke="#FF0000" stroke-width="1" stroke-dasharray="3 3"/>
<rect x="2" y="2" width="756" height="1" fill="#000"/><rect x="2" y="444" width="756" height="1" fill="#000"/><rect x="2" y="2" width="1" height="443" fill="#000"/><rect x="757" y="2" width="1" height="443" fill="#000"/>
<rect x="2" y="446" width="756" height="1" fill="#000"/><rect x="2" y="579" width="756" height="1" fill="#000"/><rect x="2" y="446" width="1" height="134" fill="#000"/><rect x="757" y="446" width="1" height="134" fill="#000"/>
<rect x="758" y="12" width="2" height="1" fill="#000"/>
<rect x="758" y="45" width="2" height="1" fill="#000"/>
<rect x="758" y="78" width="2" height="1" fill="#000"/>
<rect x="758" y="111" width="2" height="1" fill="#000"/>
<rect x="758" y="144" width="2" height="1" fill="#000"/>
<rect x="758" y="177" width="2" height="1" fill="#000"/>
<rect x="758" y="210" width="2" height="1" fill="#000"/>
<rect x="758" y="243" width="2" height="1" fill="#000"/>
<rect x="758" y="276" width="2" height="1" fill="#000"/>
<rect x="758" y="309" width="2" height="1" fill="#000"/>
<rect x="758" y="342" width="2" height="1" fill="#000"/>
<rect x="758" y="375" width="2" height="1" fill="#000"/>
<rect x="758" y="408" width="2" height="1" fill="#000"/>
<rect x="758" y="441" width="2" height="1" fill="#000"/>
<rect x="758" y="448" width="1" height="1" fill="#000"/>
<rect x="758" y="485" width="1" height="1" fill="#000"/>
<rect x="758" y="578" width="1" height="1" fill="#000"/>
<g font-family="'DejaVu Sans', 'Liberation Sans', sans-serif" font-size="9" shape-rendering="auto"><text x="763" y="16" fill="#000" textLength="33.5" lengthAdjust="spacingAndGlyphs" stroke="#000" stroke-width="0.2">1.18685</text><text x="763" y="49" fill="#000" textLength="33.5" lengthAdjust="spacingAndGlyphs" stroke="#000" stroke-width="0.2">1.18395</text><text x="763" y="82" fill="#000" textLength="33.5" lengthAdjust="spacingAndGlyphs" stroke="#000" stroke-width="0.2">1.18105</text><text x="763" y="115" fill="#000" textLength="33.5" lengthAdjust="spacingAndGlyphs" stroke="#000" stroke-width="0.2">1.17815</text><text x="763" y="148" fill="#000" textLength="33.5" lengthAdjust="spacingAndGlyphs" stroke="#000" stroke-width="0.2">1.17530</text><text x="763" y="181" fill="#000" textLength="33.5" lengthAdjust="spacingAndGlyphs" stroke="#000" stroke-width="0.2">1.17240</text><text x="763" y="214" fill="#000" textLength="33.5" lengthAdjust="spacingAndGlyphs" stroke="#000" stroke-width="0.2">1.16950</text><text x="763" y="247" fill="#000" textLength="33.5" lengthAdjust="spacingAndGlyphs" stroke="#000" stroke-width="0.2">1.16660</text><text x="763" y="280" fill="#000" textLength="33.5" lengthAdjust="spacingAndGlyphs" stroke="#000" stroke-width="0.2">1.16375</text><text x="763" y="313" fill="#000" textLength="33.5" lengthAdjust="spacingAndGlyphs" stroke="#000" stroke-width="0.2">1.16085</text><text x="763" y="346" fill="#000" textLength="33.5" lengthAdjust="spacingAndGlyphs" stroke="#000" stroke-width="0.2">1.15795</text><text x="763" y="379" fill="#000" textLength="33.5" lengthAdjust="spacingAndGlyphs" stroke="#000" stroke-width="0.2">1.15505</text><text x="763" y="412" fill="#000" textLength="33.5" lengthAdjust="spacingAndGlyphs" stroke="#000" stroke-width="0.2">1.15220</text><text x="763" y="445" fill="#000" textLength="33.5" lengthAdjust="spacingAndGlyphs" stroke="#000" stroke-width="0.2">1.14930</text><text x="761" y="457" fill="#000" textLength="37.5" lengthAdjust="spacingAndGlyphs" stroke="#000" stroke-width="0.2">0.005105</text><text x="761" y="489" fill="#000" textLength="18.5" lengthAdjust="spacingAndGlyphs" stroke="#000" stroke-width="0.2">0.00</text><text x="761" y="575.7" fill="#000" textLength="41.5" lengthAdjust="spacingAndGlyphs" stroke="#000" stroke-width="0.2">-0.012965</text></g>
<rect x="759" y="27" width="41" height="11" fill="#FF0000"/>
<rect x="759" y="170" width="41" height="11" fill="#FF0000"/>
<rect x="759" y="418" width="41" height="11" fill="#FF0000"/>
<rect x="759" y="198" width="41" height="11" fill="#000"/>
<rect x="3" y="580" width="1" height="3" fill="#000"/>
<rect x="67" y="580" width="1" height="3" fill="#000"/>
<rect x="131" y="580" width="1" height="3" fill="#000"/>
<rect x="195" y="580" width="1" height="3" fill="#000"/>
<rect x="259" y="580" width="1" height="3" fill="#000"/>
<rect x="323" y="580" width="1" height="3" fill="#000"/>
<rect x="387" y="580" width="1" height="3" fill="#000"/>
<rect x="451" y="580" width="1" height="3" fill="#000"/>
<rect x="515" y="580" width="1" height="3" fill="#000"/>
<rect x="579" y="580" width="1" height="3" fill="#000"/>
<rect x="643" y="580" width="1" height="3" fill="#000"/>
<rect x="707" y="580" width="1" height="3" fill="#000"/>
<path d="M6 9h7v1h-1v1h-1v1h-1v1h-1v-1h-1v-1h-1v-1h-1z" fill="#000"/>
<g font-family="'DejaVu Sans', 'Liberation Sans', sans-serif" font-size="9" shape-rendering="auto"><text x="763" y="36" fill="#fff" textLength="33.5" lengthAdjust="spacingAndGlyphs" stroke="#fff" stroke-width="0.2">1.18505</text><text x="763" y="179" fill="#fff" textLength="33.5" lengthAdjust="spacingAndGlyphs" stroke="#fff" stroke-width="0.2">1.17249</text><text x="763" y="427" fill="#fff" textLength="33.5" lengthAdjust="spacingAndGlyphs" stroke="#fff" stroke-width="0.2">1.15079</text><text x="763" y="207" fill="#fff" textLength="33.5" lengthAdjust="spacingAndGlyphs" stroke="#fff" stroke-width="0.2">1.17018</text><text x="2" y="592" fill="#000" textLength="50" lengthAdjust="spacingAndGlyphs" stroke="#000" stroke-width="0.2">14 Jun 2018</text><text x="66" y="592" fill="#000" textLength="53" lengthAdjust="spacingAndGlyphs" stroke="#000" stroke-width="0.2">14 Jun 20:00</text><text x="130" y="592" fill="#000" textLength="53" lengthAdjust="spacingAndGlyphs" stroke="#000" stroke-width="0.2">15 Jun 12:00</text><text x="194" y="592" fill="#000" textLength="53" lengthAdjust="spacingAndGlyphs" stroke="#000" stroke-width="0.2">18 Jun 05:00</text><text x="258" y="592" fill="#000" textLength="53" lengthAdjust="spacingAndGlyphs" stroke="#000" stroke-width="0.2">18 Jun 21:00</text><text x="322" y="592" fill="#000" textLength="53" lengthAdjust="spacingAndGlyphs" stroke="#000" stroke-width="0.2">19 Jun 13:00</text><text x="386" y="592" fill="#000" textLength="53" lengthAdjust="spacingAndGlyphs" stroke="#000" stroke-width="0.2">20 Jun 05:00</text><text x="450" y="592" fill="#000" textLength="53" lengthAdjust="spacingAndGlyphs" stroke="#000" stroke-width="0.2">20 Jun 21:00</text><text x="514" y="592" fill="#000" textLength="53" lengthAdjust="spacingAndGlyphs" stroke="#000" stroke-width="0.2">21 Jun 13:00</text><text x="578" y="592" fill="#000" textLength="53" lengthAdjust="spacingAndGlyphs" stroke="#000" stroke-width="0.2">22 Jun 05:00</text><text x="642" y="592" fill="#000" textLength="53" lengthAdjust="spacingAndGlyphs" stroke="#000" stroke-width="0.2">22 Jun 21:00</text><text x="706" y="592" fill="#000" textLength="53" lengthAdjust="spacingAndGlyphs" stroke="#000" stroke-width="0.2">25 Jun 14:00</text><text x="18" y="14" fill="#000" textLength="54" lengthAdjust="spacingAndGlyphs" stroke="#000" stroke-width="0.2">EURUSD,H1</text><text x="78.5" y="14" fill="#000" textLength="32.5" lengthAdjust="spacingAndGlyphs" stroke="#000" stroke-width="0.2">1.16961</text><text x="113.9" y="14" fill="#000" textLength="33.5" lengthAdjust="spacingAndGlyphs" stroke="#000" stroke-width="0.2">1.17062</text><text x="149.9" y="14" fill="#000" textLength="33" lengthAdjust="spacingAndGlyphs" stroke="#000" stroke-width="0.2">1.16961</text><text x="185.5" y="14" fill="#000" textLength="34.5" lengthAdjust="spacingAndGlyphs" stroke="#000" stroke-width="0.2">1.17018</text><text x="7" y="458.8" fill="#000" textLength="60.5" lengthAdjust="spacingAndGlyphs" stroke="#000" stroke-width="0.2">MACD(5,34,5)</text><text x="70.75" y="458.8" fill="#000" textLength="38.3" lengthAdjust="spacingAndGlyphs" stroke="#000" stroke-width="0.2">0.003461</text><text x="111.75" y="458.8" fill="#000" textLength="39" lengthAdjust="spacingAndGlyphs" stroke="#000" stroke-width="0.2">0.003169</text></g>
</svg></body></html>
